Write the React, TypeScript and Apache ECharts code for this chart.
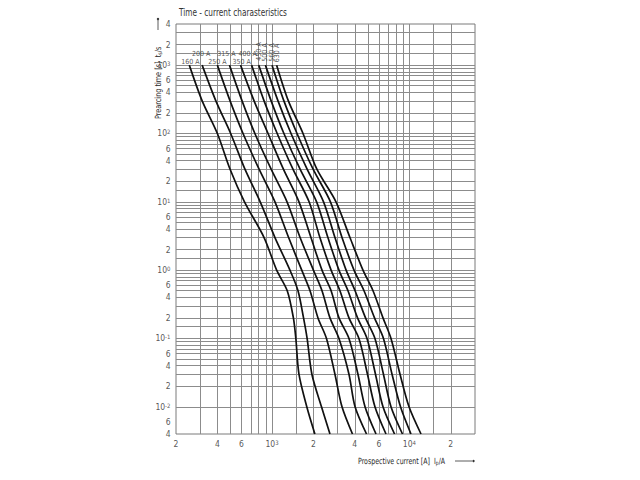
import React, { useEffect, useRef } from 'react';
import * as echarts from 'echarts';

// Prearcing time levels (s) at which the curves were read
const times = [1000, 300, 100, 30, 10, 3, 1, 0.5, 0.2, 0.1, 0.03, 0.01, 0.004];

const ratings = ['160 A', '200 A', '250 A', '315 A', '350 A', '400 A', '450 A', '500 A', '560 A', '630 A'];

// Prospective current (A) for each rating at the time levels above
const current160 = [250, 310, 400, 495, 630, 875, 1080, 1290, 1430, 1490, 1570, 1790, 2050];
const current200 = [310, 390, 500, 635, 820, 1050, 1350, 1545, 1695, 1800, 1950, 2290, 2640];
const current250 = [400, 495, 615, 805, 1050, 1320, 1645, 1890, 2160, 2490, 2870, 3230, 3850];
const current315 = [490, 605, 750, 985, 1285, 1600, 2000, 2310, 2640, 3070, 3630, 4020, 4870];
const current350 = [590, 740, 935, 1210, 1570, 1920, 2310, 2690, 3070, 3630, 4220, 4750, 5710];
const current400 = [710, 875, 1090, 1420, 1860, 2230, 2690, 3120, 3630, 4290, 4950, 5610, 6750];
const current450 = [800, 985, 1220, 1600, 2110, 2550, 3070, 3570, 4190, 4910, 5660, 6420, 7790];
const current500 = [895, 1105, 1375, 1800, 2370, 2870, 3460, 4020, 4790, 5610, 6470, 7340, 8900];
const current560 = [1000, 1220, 1520, 1990, 2660, 3230, 3950, 4670, 5570, 6470, 7470, 8610, 10260];
const current630 = [1080, 1315, 1680, 2120, 2920, 3690, 4590, 5430, 6420, 7340, 8540, 9930, 12140];

const currents = [current160, current200, current250, current315, current350, current400, current450, current500, current560, current630];

// Axis ranges
const xMin = 200;
const xMax = 30000;
const yMin = 0.004;
const yMax = 4000;

// Grid lines
const xGrid = [300, 400, 500, 600, 700, 800, 900, 1000, 1500, 2000, 3000, 4000, 5000, 6000, 7000, 8000, 9000, 10000, 15000, 20000];
const yGrid = [0.005, 0.006, 0.007, 0.008, 0.009, 0.01, 0.015, 0.02, 0.03, 0.04, 0.05, 0.06, 0.07, 0.08, 0.09,
  0.1, 0.15, 0.2, 0.3, 0.4, 0.5, 0.6, 0.7, 0.8, 0.9, 1, 1.5, 2, 3, 4, 5, 6, 7, 8, 9,
  10, 15, 20, 30, 40, 50, 60, 70, 80, 90, 100, 150, 200, 300, 400, 500, 600, 700, 800, 900,
  1000, 1500, 2000, 3000];

// Tick labels
const xTickValues = [200, 400, 600, 1000, 2000, 4000, 6000, 10000, 20000];
const xTickTexts = ['2', '4', '6', '10{sup|3}', '2', '4', '6', '10{sup|4}', '2'];
const yTickValues = [4000, 2000, 1000, 600, 400, 200, 100, 60, 40, 20, 10, 6, 4, 2, 1, 0.6, 0.4, 0.2, 0.1, 0.06, 0.04, 0.02, 0.01, 0.006, 0.004];
const yTickTexts = ['4', '2', '10{sup|3}', '6', '4', '2', '10{sup|2}', '6', '4', '2', '10{sup|1}', '6', '4', '2', '10{sup|0}', '6', '4', '2', '10{sup|-1}', '6', '4', '2', '10{sup|-2}', '6', '4'];

const FONT = '"DejaVu Sans Condensed", "Liberation Sans", sans-serif';
const TEXT = '#2a2a2a';

// label placement for curve names (dx, dy, vertical)
const labelStyles: { dx: number; dy: number; vertical: boolean }[] = [
  { dx: 1, dy: 1, vertical: false },
  { dx: -1, dy: -7, vertical: false },
  { dx: 0, dy: 1, vertical: false },
  { dx: -3, dy: -7, vertical: false },
  { dx: 1, dy: 1, vertical: false },
  { dx: -4, dy: -7, vertical: false },
  { dx: 1, dy: 0, vertical: true },
  { dx: 0, dy: 0, vertical: true },
  { dx: 0, dy: 0, vertical: true },
  { dx: -0.5, dy: 0, vertical: true },
];

const rich = {
  sup: { fontSize: 6, fontFamily: FONT, color: TEXT, verticalAlign: 'top' as const, lineHeight: 8 },
};

export default function App() {
  const ref = useRef<HTMLDivElement>(null);

  useEffect(() => {
    if (!ref.current) return;
    const chart = echarts.init(ref.current, null, { renderer: 'svg' });

    const curveSeries = currents.map((arr, i) => ({
      name: ratings[i],
      type: 'line',
      color: '#111',
      data: arr.map((c, j) => [c, times[j]]),
      showSymbol: false,
      symbol: 'none',
      smooth: 0.3,
      lineStyle: { color: '#111', width: 1.7 },
      z: 5,
      silent: true,
    }));

    const curveLabelSeries = {
      type: 'scatter',
      color: TEXT,
      symbolSize: 1,
      itemStyle: { color: 'rgba(0,0,0,0)' },
      silent: true,
      clip: false,
      z: 6,
      label: {
        show: true,
        formatter: '{b}',
        position: 'top',
        distance: 0,
        fontSize: 7,
        fontFamily: FONT,
        color: TEXT,
      },
      data: currents.map((arr, i) => {
        const s = labelStyles[i];
        return {
          name: ratings[i],
          value: [arr[0], times[0]],
          label: s.vertical
            ? {
                position: 'top',
                distance: 3,
                rotate: 90,
                align: 'left',
                verticalAlign: 'middle',
                offset: [s.dx, s.dy],
              }
            : {
                offset: [s.dx, s.dy],
              },
        };
      }),
    };

    const xTickSeries = {
      type: 'scatter',
      color: TEXT,
      symbolSize: 1,
      itemStyle: { color: 'rgba(0,0,0,0)' },
      silent: true,
      clip: false,
      z: 2,
      data: xTickValues.map((v, i) => ({ name: xTickTexts[i], value: [v, yMin] })),
      label: {
        show: true,
        formatter: '{b}',
        position: 'bottom',
        distance: 5,
        fontSize: 8.5,
        fontFamily: FONT,
        color: TEXT,
        rich,
      },
      markLine: {
        silent: true,
        symbol: ['none', 'none'],
        label: { show: false },
        lineStyle: { color: '#8c8c8c', width: 1, type: 'solid' },
        emphasis: { disabled: true },
        data: [
          ...xGrid.map((v) => ({ xAxis: v })),
          ...yGrid.map((v) => ({ yAxis: v })),
        ],
      },
    };

    const yTickSeries = {
      type: 'scatter',
      color: TEXT,
      symbolSize: 1,
      itemStyle: { color: 'rgba(0,0,0,0)' },
      silent: true,
      clip: false,
      z: 2,
      data: yTickValues.map((v, i) => ({ name: yTickTexts[i], value: [xMin, v] })),
      label: {
        show: true,
        formatter: '{b}',
        position: 'left',
        distance: 5,
        fontSize: 8.5,
        fontFamily: FONT,
        color: TEXT,
        rich,
      },
    };

    const subRich = {
      sub: { fontSize: 6, fontFamily: FONT, fill: TEXT, verticalAlign: 'bottom', lineHeight: 6 },
    };

    const option = {
      animation: false,
      backgroundColor: '#fff',
      grid: {
        left: 176,
        top: 24,
        right: 165,
        bottom: 46,
        show: true,
        borderColor: '#7a7a7a',
        borderWidth: 1,
        containLabel: false,
      },
      xAxis: {
        type: 'log',
        logBase: 10,
        min: xMin,
        max: xMax,
        axisLine: { show: false },
        axisTick: { show: false },
        axisLabel: { show: false },
        splitLine: { show: false },
      },
      yAxis: {
        type: 'log',
        logBase: 10,
        min: yMin,
        max: yMax,
        axisLine: { show: false },
        axisTick: { show: false },
        axisLabel: { show: false },
        splitLine: { show: false },
      },
      graphic: [
        {
          type: 'text',
          x: 179,
          y: 13,
          scaleX: 0.82,
          style: {
            text: 'Time - current charasteristics',
            fontSize: 10,
            fontFamily: FONT,
            fill: '#333',
            align: 'left',
            verticalAlign: 'middle',
          },
        },
        {
          type: 'text',
          x: 158,
          y: 119,
          rotation: Math.PI / 2,
          scaleX: 0.85,
          style: {
            text: 'Prearcing time [s]  t{sub|s}/s',
            fontSize: 8.5,
            fontFamily: FONT,
            fill: TEXT,
            align: 'left',
            verticalAlign: 'middle',
            rich: subRich,
          },
        },
        {
          type: 'line',
          shape: { x1: 158, y1: 30, x2: 158, y2: 20 },
          style: { stroke: '#333', lineWidth: 0.8 },
        },
        {
          type: 'circle',
          shape: { cx: 158, cy: 19, r: 1.2 },
          style: { fill: '#333' },
        },
        {
          type: 'text',
          x: 358,
          y: 461,
          scaleX: 0.82,
          style: {
            text: 'Prospective current [A]  I{sub|p}/A',
            fontSize: 8.5,
            fontFamily: FONT,
            fill: TEXT,
            align: 'left',
            verticalAlign: 'middle',
            rich: subRich,
          },
        },
        {
          type: 'line',
          shape: { x1: 455, y1: 461, x2: 472, y2: 461 },
          style: { stroke: '#333', lineWidth: 0.8 },
        },
        {
          type: 'circle',
          shape: { cx: 473.5, cy: 461, r: 1.2 },
          style: { fill: '#333' },
        },
      ],
      series: [xTickSeries, yTickSeries, ...curveSeries, curveLabelSeries],
    };

    chart.setOption(option as any);
    return () => chart.dispose();
  }, []);

  return (
    <div
      ref={ref}
      style={{ position: 'fixed', left: 0, top: 0, width: 640, height: 480, background: '#fff' }}
    />
  );
}
